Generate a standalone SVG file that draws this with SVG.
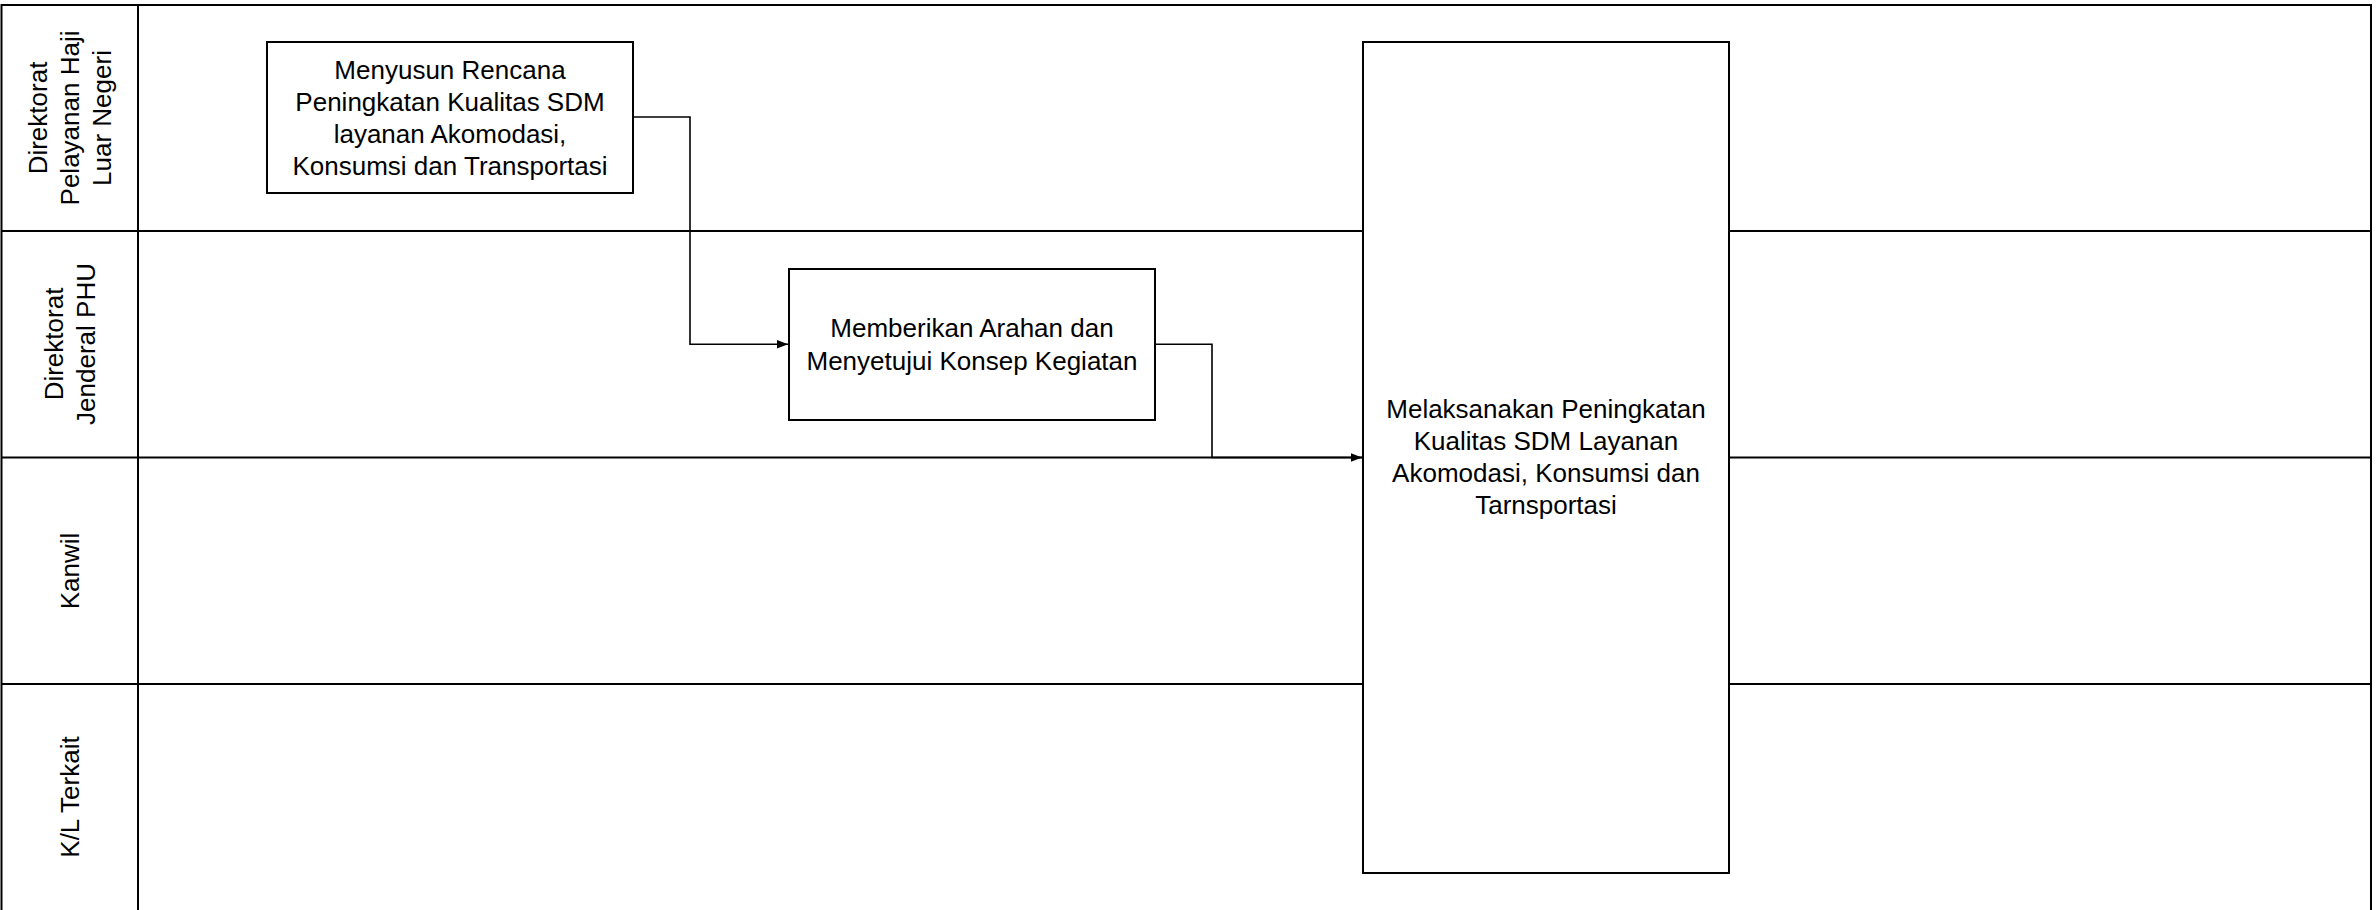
<svg xmlns="http://www.w3.org/2000/svg" width="2379" height="910" viewBox="0 0 2379 910">
<style>
.lane{fill:none;stroke:#000;stroke-width:2}
.box{fill:#fff;stroke:#000;stroke-width:2}
.conn{fill:none;stroke:#000;stroke-width:1.6}
.t{font-family:"Liberation Sans",Arial,sans-serif;font-size:26px;fill:#000;text-anchor:middle}
</style>
<defs>
<marker id="arr" markerUnits="userSpaceOnUse" markerWidth="12" markerHeight="10" refX="11" refY="5" orient="auto">
<path d="M0,0.8 L11,5 L0,9.2 z" fill="#000"/>
</marker>
</defs>
<rect width="2379" height="910" fill="#fff"/>
<g id="lanes">
<rect class="lane" x="1.5" y="5" width="2369.5" height="915"/>
<line class="lane" x1="138" y1="5" x2="138" y2="915"/>
<line class="lane" x1="1.5" y1="231" x2="2371" y2="231"/>
<line class="lane" x1="1.5" y1="457.5" x2="2371" y2="457.5"/>
<line class="lane" x1="1.5" y1="684" x2="2371" y2="684"/>
<g id="lane1"><text class="t" transform="translate(69.5,118) rotate(-90)"><tspan x="0" y="-23">Direktorat</tspan><tspan x="0" y="9">Pelayanan Haji</tspan><tspan x="0" y="41">Luar Negeri</tspan></text></g>
<g id="lane2"><text class="t" transform="translate(69.5,344) rotate(-90)"><tspan x="0" y="-7">Direktorat</tspan><tspan x="0" y="25">Jenderal PHU</tspan></text></g>
<g id="lane3"><text class="t" transform="translate(69.5,571) rotate(-90)"><tspan x="0" y="9">Kanwil</tspan></text></g>
<g id="lane4"><text class="t" transform="translate(69.5,797) rotate(-90)"><tspan x="0" y="9">K/L Terkait</tspan></text></g>
</g>
<g id="connectors">
<polyline class="conn" points="633,117 690,117 690,344.3 788,344.3" marker-end="url(#arr)"/>
<polyline class="conn" points="1155,344.3 1212,344.3 1212,457.5 1362,457.5" marker-end="url(#arr)"/>
</g>
<g id="node1">
<rect class="box" x="267" y="42" width="366" height="151"/>
<text class="t"><tspan x="450" y="79">Menyusun Rencana</tspan><tspan x="450" y="111">Peningkatan Kualitas SDM</tspan><tspan x="450" y="143">layanan Akomodasi,</tspan><tspan x="450" y="175">Konsumsi dan Transportasi</tspan></text>
</g>
<g id="node2">
<rect class="box" x="789" y="269" width="366" height="151"/>
<text class="t"><tspan x="972" y="337">Memberikan Arahan dan</tspan><tspan x="972" y="370">Menyetujui Konsep Kegiatan</tspan></text>
</g>
<g id="node3">
<rect class="box" x="1363" y="42" width="366" height="831"/>
<text class="t"><tspan x="1546" y="418">Melaksanakan Peningkatan</tspan><tspan x="1546" y="450">Kualitas SDM Layanan</tspan><tspan x="1546" y="482">Akomodasi, Konsumsi dan</tspan><tspan x="1546" y="514">Tarnsportasi</tspan></text>
</g>
</svg>
